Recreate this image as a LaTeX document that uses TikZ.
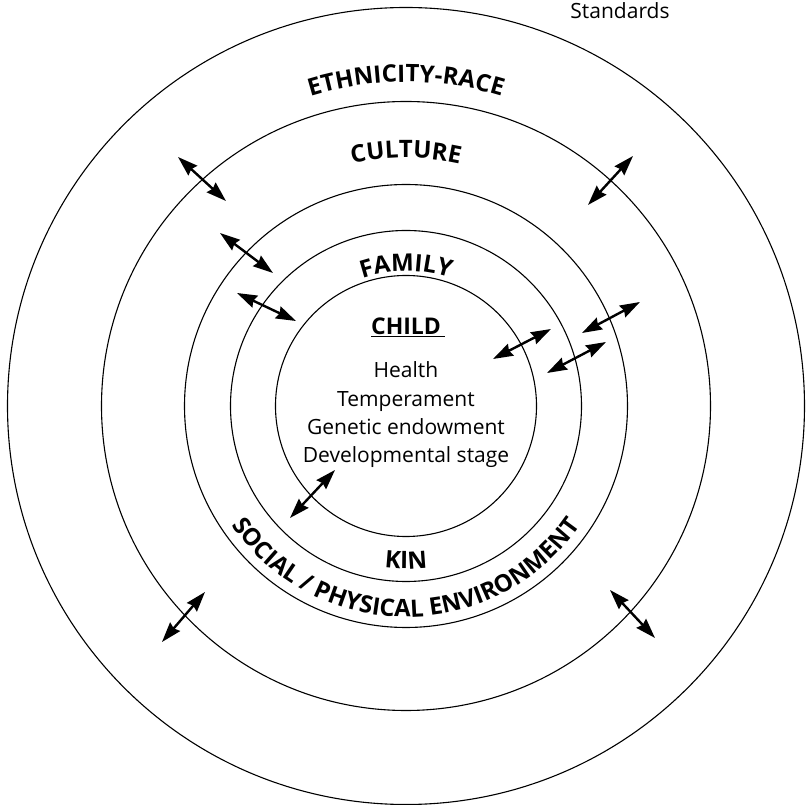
\documentclass[tikz,border=0pt]{standalone}
\usepackage{fontspec}
\setmainfont{Open Sans}
\usetikzlibrary{arrows.meta,decorations.text}

\newcommand{\ringfont}{\bfseries\fontsize{24}{24}\selectfont}

\tikzset{
    ring/.style={circle,draw,line width=1.1pt,minimum size=#1,
        inner sep=0pt,outer sep=0pt},
    link/.style={{Stealth[length=20pt,width=13pt,inset=2pt]}-{Stealth[length=20pt,width=13pt,inset=2pt]},
        line width=2.4pt},
    bodytext/.style={font=\fontsize{21}{25}\selectfont,anchor=base,inner sep=0pt},
}

\begin{document}
\begin{tikzpicture}[x=1pt,y=1pt]
\useasboundingbox (-406,-399) rectangle (400,406);

% the rings
\node[ring=797pt] (ethnicity) at (0,0) {};
\node[ring=609pt] (culture) at (0,0) {};
\node[ring=443pt] (environment) at (0,0) {};
\node[ring=351pt] (kin) at (0,0) {};
\node[ring=261pt] (child) at (0,0) {};

% ring labels
\path[decorate,decoration={text along path,text align=center,
    text={|\ringfont|ETHNICITY-RACE}}]
    (180:324) arc[start angle=180,end angle=0,radius=324];
\path[decorate,decoration={text along path,text align=center,
    text={|\ringfont|CULTURE}}]
    (180:248) arc[start angle=180,end angle=0,radius=248];
\path[decorate,decoration={text along path,text align=center,
    text={|\ringfont|FAMILY}}]
    (180:135) arc[start angle=180,end angle=0,radius=135];
\path[decorate,decoration={text along path,text align=center,
    text={|\ringfont|KIN}}]
    (180:163) arc[start angle=180,end angle=360,radius=163];
\path[decorate,decoration={text along path,text align=center,
    text={|\ringfont|SOCIAL / PHYSICAL ENVIRONMENT}}]
    (180:211) arc[start angle=180,end angle=360,radius=211];

% child
\node[anchor=base,inner sep=0pt,font=\ringfont\fontsize{23}{23}\selectfont] (childname) at (2,71) {\underline{CHILD\,}};
\node[bodytext] (health) at (0,28) {Health};
\node[bodytext] (temper) at (0,-1) {Temperament};
\node[bodytext] (genetic) at (0,-29) {Genetic endowment};
\node[bodytext] (stage) at (0,-57) {Developmental stage};

\node[bodytext] (standards) at (214,387) {Standards};

% arrows across the rings
\coordinate (cu1a) at (-228,249);
\coordinate (cu1b) at (-180,205);
\coordinate (cu2a) at (227,250);
\coordinate (cu2b) at (182,201);
\coordinate (cu3a) at (-201,-186);
\coordinate (cu3b) at (-244,-236);
\coordinate (cu4a) at (204,-184);
\coordinate (cu4b) at (249,-232);
\coordinate (en1a) at (-186,173);
\coordinate (en1b) at (-133,133);
\coordinate (en2a) at (234,104);
\coordinate (en2b) at (176,73);
\coordinate (ki1a) at (-169,113);
\coordinate (ki1b) at (-110,85);
\coordinate (ki2a) at (200,64);
\coordinate (ki2b) at (141,33);
\coordinate (ch1a) at (145,77);
\coordinate (ch1b) at (87,47);
\coordinate (ch2a) at (-71,-64);
\coordinate (ch2b) at (-116,-112);

\draw[link] (cu1a) -- (cu1b);
\draw[link] (cu2a) -- (cu2b);
\draw[link] (cu3a) -- (cu3b);
\draw[link] (cu4a) -- (cu4b);
\draw[link] (en1a) -- (en1b);
\draw[link] (en2a) -- (en2b);
\draw[link] (ki1a) -- (ki1b);
\draw[link] (ki2a) -- (ki2b);
\draw[link] (ch1a) -- (ch1b);
\draw[link] (ch2a) -- (ch2b);
\end{tikzpicture}
\end{document}
